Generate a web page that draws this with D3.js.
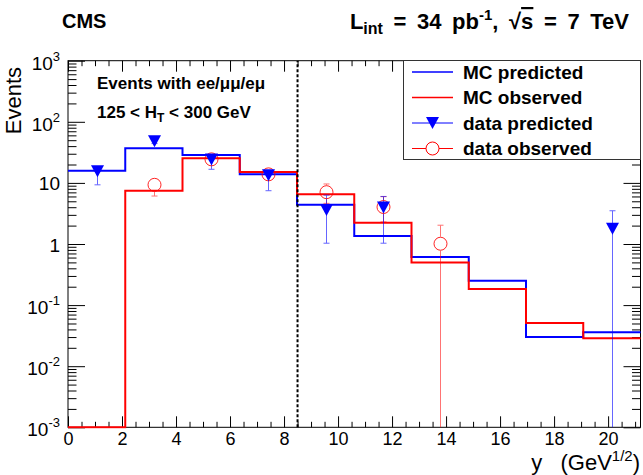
<!DOCTYPE html>
<html>
<head>
<meta charset="utf-8">
<script src="https://cdn.jsdelivr.net/npm/d3@7"></script>
<style>
  body { margin: 0; background: #fff; }
  svg { display: block; font-family: "Liberation Sans", Arial, Helvetica, sans-serif; }
</style>
</head>
<body>
<svg id="chart" width="643" height="475"></svg>
<script>
// ---- data -------------------------------------------------------------
const binEdges    = [0, 2.12, 4.24, 6.36, 8.48, 10.6, 12.72, 14.84, 16.96, 19.08, 21.2];
const mcPredicted = [15.8, 36.8, 28.6, 13.8, 4.4, 1.35, 0.61, 0.25, 0.030, 0.036];
const mcObserved  = [0, 7.45, 25.3, 15.1, 6.5, 2.23, 0.50, 0.183, 0.051, 0.0286];

// data points: bin index, value, lower / upper end of the error bar
const dataPredicted = [
  { bin: 0, v: 15.5, lo: 9.3,  hi: 16.5 },
  { bin: 1, v: 48,   lo: 44,   hi: 52 },
  { bin: 2, v: 24.1, lo: 16.7, hi: 27 },
  { bin: 3, v: 13.3, lo: 7.45, hi: 15 },
  { bin: 4, v: 3.6,  lo: 1.03, hi: 6.3 },
  { bin: 5, v: 3.95, lo: 1.03, hi: 6.0 },
  { bin: 9, v: 1.78, lo: 0,    hi: 3.5 }
];
const dataObserved = [
  { bin: 1, v: 9.3,  lo: 6.1,  hi: 12 },
  { bin: 2, v: 24.3, lo: 20,   hi: 29 },
  { bin: 3, v: 13.8, lo: 11,   hi: 17 },
  { bin: 4, v: 7.05, lo: 4.63, hi: 9.6 },
  { bin: 5, v: 4.03, lo: 2.3,  hi: 5.95 },
  { bin: 6, v: 1.01, lo: 0,    hi: 2.03 }
];

const xTicks      = [0, 2, 4, 6, 8, 10, 12, 14, 16, 18, 20];
const yTicks      = [1e-3, 1e-2, 1e-1, 1, 10, 100, 1000];
const yTickLabels = [["10", "-3"], ["10", "-2"], ["10", "-1"], ["1", ""], ["10", ""], ["10", "2"], ["10", "3"]];
const selectionCut = 8.5;

const legendItems = [
  { label: "MC predicted",   color: "#0000ff", marker: null },
  { label: "MC observed",    color: "#ff0000", marker: null },
  { label: "data predicted", color: "#0000ff", marker: "tri" },
  { label: "data observed",  color: "#ff0000", marker: "circle" }
];

// ---- frame & scales ---------------------------------------------------
const svg = d3.select("#chart");
const L = 68, R = 640.5, T = 60.7, B = 427.3;

const x = d3.scaleLinear().domain([binEdges[0], binEdges[binEdges.length - 1]]).range([L, R]);
const y = d3.scaleLog().domain([1e-3, 1e3]).range([B, T]);
const yv = v => y(Math.max(v, y.domain()[0]));

const BLUE = "#0000ff", RED = "#ff0000";

// minor tick positions
const xMinor = d3.range(0, 21.2, 0.5).filter(t => t % 2 !== 0);
const yMinor = [];
yTicks.slice(0, -1).forEach(d => { for (let k = 2; k <= 9; k++) yMinor.push(d * k); });

const axisG = svg.append("g").attr("class", "axes");

function styleAxis(g) {
  g.select(".domain").remove();
  g.selectAll(".tick line").attr("stroke", "#000").attr("stroke-width", 1);
}

// bottom axis (ticks point inward)
axisG.append("g").attr("transform", `translate(0,${B})`)
  .call(d3.axisBottom(x).tickValues(xTicks).tickSizeInner(-11).tickSizeOuter(0).tickPadding(5)
    .tickFormat(d3.format("d")))
  .call(styleAxis)
  .call(g => g.selectAll("text").attr("font-size", 18).attr("fill", "#000")
      .attr("font-family", "Liberation Sans, Arial, sans-serif").attr("dy", null).attr("y", 18));
axisG.append("g").attr("transform", `translate(0,${B})`)
  .call(d3.axisBottom(x).tickValues(xMinor).tickSizeInner(-5.5).tickSizeOuter(0).tickFormat(""))
  .call(styleAxis);
// top axis
axisG.append("g").attr("transform", `translate(0,${T})`)
  .call(d3.axisTop(x).tickValues(xTicks).tickSizeInner(-11).tickSizeOuter(0).tickFormat(""))
  .call(styleAxis);
axisG.append("g").attr("transform", `translate(0,${T})`)
  .call(d3.axisTop(x).tickValues(xMinor).tickSizeInner(-5.5).tickSizeOuter(0).tickFormat(""))
  .call(styleAxis);

// left axis
axisG.append("g").attr("transform", `translate(${L},0)`)
  .call(d3.axisLeft(y).tickValues(yTicks).tickSizeInner(-17).tickSizeOuter(0).tickPadding(8)
    .tickFormat(() => ""))
  .call(styleAxis)
  .call(g => g.selectAll(".tick text").each(function (d, i) {
    const t = d3.select(this).attr("font-size", 19).attr("fill", "#000")
      .attr("font-family", "Liberation Sans, Arial, sans-serif")
      .attr("dy", null).attr("x", -8);
    const [base, exp] = yTickLabels[i];
    t.attr("y", exp ? 8.5 : 7);
    t.append("tspan").text(base);
    if (exp) t.append("tspan").attr("font-size", 13).attr("dy", -9).text(exp);
  }));
axisG.append("g").attr("transform", `translate(${L},0)`)
  .call(d3.axisLeft(y).tickValues(yMinor).tickSizeInner(-8.5).tickSizeOuter(0).tickFormat(""))
  .call(styleAxis);
// right axis
axisG.append("g").attr("transform", `translate(${R},0)`)
  .call(d3.axisRight(y).tickValues(yTicks).tickSizeInner(-17).tickSizeOuter(0).tickFormat(""))
  .call(styleAxis);
axisG.append("g").attr("transform", `translate(${R},0)`)
  .call(d3.axisRight(y).tickValues(yMinor).tickSizeInner(-8.5).tickSizeOuter(0).tickFormat(""))
  .call(styleAxis);

// frame
axisG.append("rect").attr("x", L).attr("y", T).attr("width", R - L).attr("height", B - T)
  .attr("fill", "none").attr("stroke", "#000").attr("stroke-width", 1);

// ---- histograms -------------------------------------------------------
svg.append("clipPath").attr("id", "plotClip")
  .append("rect").attr("x", L - 1).attr("y", T).attr("width", R - L + 2).attr("height", B - T + 1.5);

const plot = svg.append("g").attr("clip-path", "url(#plotClip)");

function stepPoints(values) {
  const pts = [];
  values.forEach((v, i) => { pts.push([binEdges[i], v]); pts.push([binEdges[i + 1], v]); });
  return pts;
}
const stepLine = d3.line().x(d => x(d[0])).y(d => yv(d[1]));

plot.append("path").datum(stepPoints(mcPredicted)).attr("d", stepLine)
  .attr("fill", "none").attr("stroke", BLUE).attr("stroke-width", 2);
plot.append("path").datum(stepPoints(mcObserved)).attr("d", stepLine)
  .attr("fill", "none").attr("stroke", RED).attr("stroke-width", 2);

// selection boundary
plot.append("line").attr("x1", x(selectionCut)).attr("x2", x(selectionCut))
  .attr("y1", B).attr("y2", T)
  .attr("stroke", "#000").attr("stroke-width", 2).attr("stroke-dasharray", "3,2");

// ---- data points ------------------------------------------------------
const binCenter = i => (binEdges[i] + binEdges[i + 1]) / 2;
const triPath = "M-6.5,-6L6.5,-6L0,6Z";

function drawErrors(g, pts, color, gap, opacity) {
  pts.forEach(p => {
    const cx = Math.round(x(binCenter(p.bin))) + 0.5;
    const cy = yv(p.v), ylo = yv(p.lo), yhi = yv(p.hi);
    const e = g.append("g").attr("stroke", color).attr("stroke-width", 1).attr("opacity", opacity);
    if (yhi < cy - gap) {
      e.append("line").attr("x1", cx).attr("x2", cx).attr("y1", yhi).attr("y2", cy - gap);
      e.append("line").attr("x1", cx - 3).attr("x2", cx + 3).attr("y1", yhi).attr("y2", yhi);
    }
    if (ylo > cy + gap) {
      e.append("line").attr("x1", cx).attr("x2", cx).attr("y1", cy + gap).attr("y2", ylo);
      if (p.lo > 0) e.append("line").attr("x1", cx - 3).attr("x2", cx + 3).attr("y1", ylo).attr("y2", ylo);
    }
  });
}

drawErrors(plot, dataObserved, RED, 7, 0.55);
drawErrors(plot, dataPredicted, BLUE, 0, 0.6);

plot.selectAll(".obs").data(dataObserved).join("circle").attr("class", "obs")
  .attr("cx", d => Math.round(x(binCenter(d.bin))) + 0.5).attr("cy", d => yv(d.v)).attr("r", 6.5)
  .attr("fill", "none").attr("stroke", RED).attr("stroke-width", 1).attr("opacity", 0.85);

plot.selectAll(".pred").data(dataPredicted).join("path").attr("class", "pred")
  .attr("transform", d => `translate(${Math.round(x(binCenter(d.bin))) + 0.5},${yv(d.v)})`)
  .attr("d", triPath).attr("fill", BLUE);

// ---- texts ------------------------------------------------------------
svg.append("text").attr("x", 62).attr("y", 28).attr("font-size", 20).attr("font-weight", "bold")
  .text("CMS");

const lumi = svg.append("text").attr("x", 629).attr("y", 29).attr("font-size", 22)
  .attr("font-weight", "bold").attr("text-anchor", "end").attr("word-spacing", 4.5)
  .attr("xml:space", "preserve");
lumi.append("tspan").text("L");
lumi.append("tspan").attr("font-size", 16).attr("dy", 5).text("int");
lumi.append("tspan").attr("dy", -5).text(" = 34 pb");
lumi.append("tspan").attr("font-size", 15).attr("dy", -9).text("-1");
lumi.append("tspan").attr("dy", 9).text(", \u221A");
lumi.append("tspan").attr("text-decoration", "overline").text("s");
lumi.append("tspan").text(" = 7 TeV");

svg.append("text").attr("x", 97).attr("y", 89).attr("font-size", 17).attr("font-weight", "bold")
  .text("Events with ee/\u03BC\u03BC/e\u03BC");
const ht = svg.append("text").attr("x", 97).attr("y", 118).attr("font-size", 17).attr("font-weight", "bold");
ht.append("tspan").text("125 < H");
ht.append("tspan").attr("font-size", 12).attr("dy", 4).text("T");
ht.append("tspan").attr("dy", -4).text(" < 300 GeV");

// axis titles
svg.append("text").attr("transform", "translate(21,67) rotate(-90)")
  .attr("text-anchor", "end").attr("font-size", 22).text("Events");
const xt = svg.append("text").attr("x", 640).attr("y", 470).attr("text-anchor", "end")
  .attr("font-size", 22).attr("xml:space", "preserve");
xt.append("tspan").text("y   (GeV");
xt.append("tspan").attr("font-size", 15).attr("dy", -9).text("1/2");
xt.append("tspan").attr("dy", 9).text(")");

// ---- legend -----------------------------------------------------------
const lg = svg.append("g");
const lgX0 = 403, lgY0 = 60, lgX1 = 641, lgY1 = 159;
lg.append("rect").attr("x", lgX0 + 0.5).attr("y", lgY0 + 0.5)
  .attr("width", lgX1 - lgX0 - 1).attr("height", lgY1 - lgY0)
  .attr("fill", "#fff").attr("stroke", "#333").attr("stroke-width", 1);

const rowY = d3.scalePoint().domain(legendItems.map(d => d.label)).range([72, 148.5]);
legendItems.forEach(it => {
  const cy = rowY(it.label);
  lg.append("line").attr("x1", 412).attr("x2", 453).attr("y1", cy).attr("y2", cy)
    .attr("stroke", it.color).attr("stroke-width", it.marker ? 1 : 1.5);
  if (it.marker === "tri")
    lg.append("path").attr("transform", `translate(432.5,${cy})`).attr("d", triPath).attr("fill", it.color);
  if (it.marker === "circle")
    lg.append("circle").attr("cx", 432.5).attr("cy", cy).attr("r", 6.5)
      .attr("fill", "#fff").attr("stroke", it.color).attr("stroke-width", 1);
  lg.append("text").attr("x", 463).attr("y", cy + 6.5).attr("font-size", 19).attr("font-weight", "bold")
    .text(it.label);
});
</script>
</body>
</html>
